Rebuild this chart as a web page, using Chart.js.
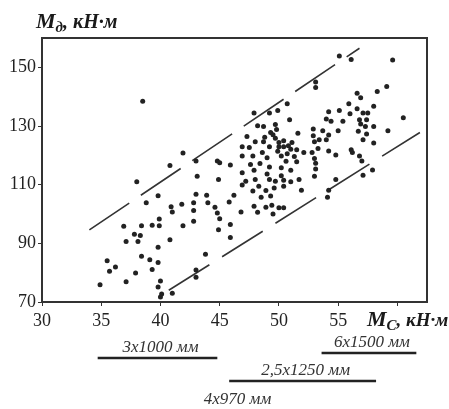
<!DOCTYPE html>
<html>
<head>
<meta charset="utf-8">
<script src="https://cdn.jsdelivr.net/npm/chart.js@4/dist/chart.umd.min.js"></script>
<style>
  html, body { margin: 0; padding: 0; background: #fff; }
  #chart { display: block; }
</style>
</head>
<body>
<canvas id="chart" width="449" height="409"></canvas>
<script>
// static moment Mc vs dynamic moment Md (kN*m)
const mcValues = [
  41.9, 40.8, 38.0, 39.8, 38.8, 40.9, 41.0, 41.8, 36.9, 38.4, 39.3, 39.9, 39.9, 41.9, 37.8, 38.3, 37.1, 38.1, 40.8, 39.8,
  38.4, 39.1, 39.8, 35.5, 36.2, 35.7, 37.9, 39.3, 34.9, 37.1, 40.0, 39.8, 41.0, 40.0, 40.1, 43.0, 43.0, 38.5,
  43.0, 43.1, 44.8, 45.0, 45.9, 44.9, 46.9, 46.9, 43.0, 43.9, 42.8, 44.0, 46.2, 45.8, 44.6, 44.8, 42.8, 45.0,
  42.8, 45.9, 44.9, 45.9, 43.8, 46.8, 46.9,
  47.9, 49.2, 49.9, 50.7, 48.2, 48.7, 49.7, 49.3, 49.8, 50.9, 47.3, 48.0, 48.7, 49.7, 50.0, 50.4, 47.5, 49.2,
  50.0, 50.4, 50.8, 51.0, 46.9, 47.8, 49.0, 50.2, 50.7, 47.9, 49.2, 50.2, 51.0, 47.2, 48.0, 49.2, 49.7, 50.4,
  51.0, 47.8, 48.3, 49.6, 50.4, 48.9, 48.5, 49.3, 47.9, 48.9, 49.4, 50.0, 50.4, 48.2, 49.5,
  48.6, 49.9, 50.6, 48.4, 49.0, 50.2, 47.6, 48.8, 49.5,
  55.1, 56.1, 59.6, 53.1, 53.1, 56.6, 56.9, 58.3, 59.1, 55.9, 58.0, 54.2, 55.1, 56.6, 56.0, 57.1, 57.5, 54.0,
  54.4, 55.4, 56.8, 57.4, 56.9, 57.3, 58.0, 60.5, 51.6, 52.9, 52.9, 53.7, 54.2, 55.0, 56.7, 57.4, 59.2,
  53.0, 53.4, 54.0, 51.1, 51.5, 52.1, 52.8, 53.3, 54.2, 51.3, 53.0, 54.8, 56.1, 56.2, 57.1, 58.0, 56.8, 57.0,
  51.5, 53.1, 53.1, 53.0, 51.7, 54.8, 51.9, 57.1, 57.9, 54.2, 54.1
];
const mdValues = [
  120.8, 116.5, 111.0, 106.2, 103.8, 102.5, 100.7, 103.3, 95.8, 96.0, 96.2, 98.3, 96.0, 96.0, 93.1, 92.7, 90.6, 90.6, 91.2, 88.7,
  85.6, 84.4, 83.5, 84.1, 81.9, 80.5, 79.9, 81.1, 75.9, 76.9, 77.2, 75.1, 73.0, 71.7, 72.7, 80.9, 78.4, 138.4,
  118.1, 112.9, 118.1, 117.5, 116.7, 111.8, 114.1, 122.9, 106.7, 106.4, 103.8, 103.8, 106.4, 104.1, 102.3, 100.3, 101.2, 98.4,
  97.5, 96.4, 94.6, 92.0, 86.3, 100.7, 109.9,
  134.4, 134.4, 135.3, 137.6, 130.1, 129.8, 130.5, 127.8, 128.8, 132.1, 126.4, 124.6, 124.6, 125.8, 124.4, 125.0, 122.7, 122.9,
  122.9, 122.9, 123.3, 122.1, 119.8, 119.8, 119.2, 119.8, 120.5, 114.9, 116.0, 115.8, 114.9, 111.2, 111.8, 111.8, 111.2, 111.5,
  111.0, 107.8, 109.5, 108.9, 109.5, 108.0, 105.7, 106.1, 102.6, 102.3, 103.0, 102.1, 102.1, 100.6, 100.0,
  121.0, 121.4, 118.0, 117.2, 113.6, 113.0, 116.9, 126.2, 127.0,
  153.9, 152.7, 152.5, 145.0, 143.1, 141.2, 139.6, 141.8, 143.5, 137.6, 136.7, 134.9, 135.3, 135.9, 134.2, 134.4, 134.4, 132.4,
  131.6, 131.6, 132.1, 132.1, 130.7, 129.8, 129.8, 132.8, 127.5, 129.0, 126.7, 128.4, 126.9, 128.4, 128.2, 127.3, 128.4,
  124.6, 125.3, 125.3, 124.4, 121.9, 121.0, 121.0, 122.3, 121.5, 119.6, 118.9, 120.1, 121.9, 121.0, 125.3, 124.2, 119.8, 118.1,
  117.8, 117.3, 115.3, 112.9, 111.8, 111.8, 108.1, 113.2, 115.0, 108.1, 105.7
];

// dashed band limits
const upperX = [34.0, 56.8];
const upperY = [94.6, 156.5];
const lowerX = [40.7, 61.9];
const lowerY = [74.0, 127.8];

// mill sizes and the Mc range each one covers
const millSizes = ['3x1000 мм', '6x1500 мм', '2,5x1250 мм', '4x970 мм'];
const millFrom = [34.7, 53.6, 45.8, 41.5];
const millTo = [44.8, 61.6, 58.2, 51.0];

const xTicks = [30, 35, 40, 45, 50, 55, 60];
const xLabels = ['30', '35', '40', '45', '50', '55', ''];
const yTicks = [70, 90, 110, 130, 150];

const serif = "'Liberation Serif', 'DejaVu Serif', serif";

function toPoints(xs, ys) {
  return xs.map((v, i) => ({x: v, y: ys[i]}));
}

const extras = {
  id: 'extras',
  afterDraw(chart) {
    const ctx = chart.ctx;
    const a = chart.chartArea;
    const x = chart.scales.x;
    ctx.save();
    // frame
    ctx.strokeStyle = '#333';
    ctx.lineWidth = 2;
    ctx.strokeRect(a.left, a.top, a.right - a.left, a.bottom - a.top);

    ctx.fillStyle = '#1a1a1a';
    ctx.textBaseline = 'alphabetic';
    ctx.textAlign = 'left';
    // y title: Mд, кН·м
    let px = 36;
    ctx.font = 'bold italic 22px ' + serif;
    ctx.fillText('M', px, 28);
    px += ctx.measureText('M').width;
    ctx.font = 'bold italic 15px ' + serif;
    ctx.fillText('д', px, 32);
    px += ctx.measureText('д').width;
    ctx.font = 'bold italic 20px ' + serif;
    ctx.fillText(', кН·м', px, 28);

    // x title: Mc, кН·м
    px = 367;
    ctx.font = 'bold italic 22px ' + serif;
    ctx.fillText('M', px, 326);
    px += ctx.measureText('M').width;
    ctx.font = 'bold italic 15px ' + serif;
    ctx.fillText('C', px, 330);
    px += ctx.measureText('C').width;
    ctx.font = 'bold italic 19px ' + serif;
    ctx.fillText(', кН·м', px, 326);

    // mill size ranges under the axis
    const textY = [352, 347, 375, 404];
    const barY = [358, 353, 381, 418];
    ctx.font = 'italic 17px ' + serif;
    ctx.textAlign = 'center';
    ctx.strokeStyle = '#222';
    ctx.lineWidth = 2.5;
    millSizes.forEach((label, i) => {
      const x0 = x.getPixelForValue(millFrom[i]);
      const x1 = x.getPixelForValue(millTo[i]);
      ctx.fillStyle = '#333';
      ctx.fillText(label, (x0 + x1) / 2 + 3, textY[i]);
      ctx.beginPath();
      ctx.moveTo(x0, barY[i]);
      ctx.lineTo(x1, barY[i]);
      ctx.stroke();
    });
    ctx.restore();
  }
};

new Chart(document.getElementById('chart'), {
  type: 'scatter',
  data: {
    datasets: [
      {
        data: toPoints(mcValues, mdValues),
        backgroundColor: '#222',
        borderColor: '#222',
        pointRadius: 2.5,
        borderWidth: 0
      }, {
        data: toPoints(upperX, upperY),
        showLine: true,
        borderColor: '#333',
        borderWidth: 1.6,
        borderDash: [48, 14],
        pointRadius: 0
      }, {
        data: toPoints(lowerX, lowerY),
        showLine: true,
        borderColor: '#333',
        borderWidth: 1.6,
        borderDash: [48, 15],
        pointRadius: 0
      }
    ]
  },
  options: {
    responsive: false,
    animation: false,
    layout: { padding: { top: 38, right: 22, left: 0, bottom: 0 } },
    plugins: {
      legend: { display: false },
      tooltip: { enabled: false }
    },
    scales: {
      x: {
        type: 'linear',
        min: 30,
        max: 62.5,
        grid: { drawOnChartArea: false, tickLength: 4, color: '#333' },
        border: { color: '#333', width: 2 },
        afterBuildTicks: s => { s.ticks = xTicks.map(v => ({value: v})); },
        ticks: {
          autoSkip: false,
          maxRotation: 0,
          padding: 4,
          color: '#222',
          font: { family: serif, size: 18 },
          callback: (v, i) => xLabels[i]
        },
        afterFit: s => { s.height = 107; }
      },
      y: {
        min: 70,
        max: 160,
        grid: { drawOnChartArea: false, tickLength: 4, color: '#333' },
        border: { color: '#333', width: 2 },
        afterBuildTicks: s => { s.ticks = yTicks.map(v => ({value: v})); },
        ticks: {
          padding: 2,
          color: '#222',
          font: { family: serif, size: 18 }
        },
        afterFit: s => { s.width = 42; }
      }
    }
  },
  plugins: [extras]
});
</script>
</body>
</html>
